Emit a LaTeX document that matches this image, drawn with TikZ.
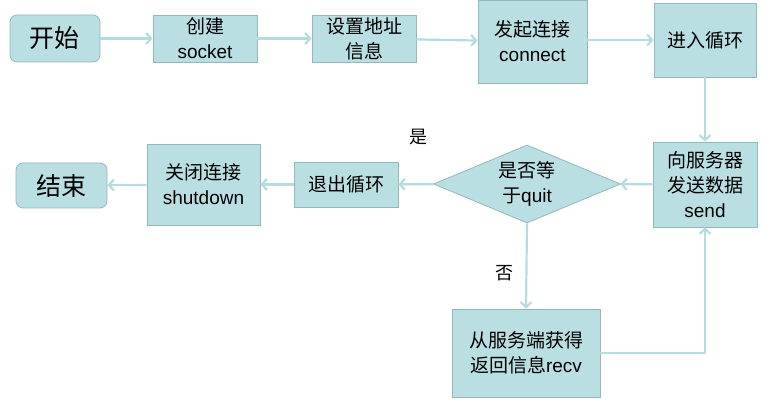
\documentclass[tikz,border=0pt]{standalone}
\usepackage{fontspec}
\setmainfont{Liberation Sans}
\newfontfamily\cjk{Noto Sans CJK SC}
\usetikzlibrary{shapes.geometric,arrows.meta}
\definecolor{boxfill}{HTML}{BADFE3}
\definecolor{boxdraw}{HTML}{93B8BC}
\definecolor{flow}{HTML}{B5DDE0}
\tikzset{
  box/.style={draw=boxdraw,fill=boxfill,line width=0.8pt,align=center,inner sep=2pt,
    font=\fontsize{19}{25}\selectfont},
  term/.style={box,rounded corners=7pt,font=\cjk\fontsize{25}{28}\selectfont},
  decide/.style={box,diamond,aspect=2.4,inner sep=0pt,minimum width=187pt,minimum height=78pt},
  flowline/.style={draw=flow,line width=2.2pt,-{Straight Barb[length=5pt,width=11pt]}},
  tag/.style={font=\cjk\fontsize{18}{20}\selectfont}
}
\begin{document}
\begin{tikzpicture}[x=1pt,y=-1pt]
    \useasboundingbox (0,0) rectangle (772,417);
    % top row
    \node[term,minimum width=90pt,minimum height=47pt] (start) at (55,38.5) {开始};
    \node[box,minimum width=104pt,minimum height=47pt] (create) at (205,38.5) {{\cjk 创建}\\socket};
    \node[box,minimum width=104pt,minimum height=47pt] (addr) at (364,38.5) {\cjk 设置地址\\\cjk 信息};
    \node[box,minimum width=109pt,minimum height=83pt] (conn) at (532.5,41.5) {{\cjk 发起连接}\\connect};
    \node[box,minimum width=102pt,minimum height=74pt] (loop) at (705,40) {\cjk 进入循环};
    % middle row
    \node[box,minimum width=104pt,minimum height=85pt] (send) at (705,184.5) {\cjk 向服务器\\\cjk 发送数据\\send};
    \node[decide] (quit) at (527,184) {{\cjk 是否等}\\{\cjk 于}quit};
    \node[box,minimum width=104pt,minimum height=45pt] (exit) at (346,184.5) {\cjk 退出循环};
    \node[box,minimum width=113pt,minimum height=81pt] (close) at (203.5,184.5) {{\cjk 关闭连接}\\shutdown};
    \node[term,minimum width=91pt,minimum height=45pt] (end) at (61.5,185.5) {结束};
    % bottom
    \node[box,minimum width=148pt,minimum height=88pt] (recv) at (526,353) {{\cjk 从服务端获得}\\{\cjk 返回信息}recv};
    \node[tag] (yes) at (418,137) {是};
    \node[tag] (no) at (504,273) {否};

    \draw[flowline] (start) -- (create);
    \draw[flowline] (create) -- (addr);
    \draw[flowline] (addr) -- (conn);
    \draw[flowline] (conn.east |- loop) -- (loop);
    \draw[flowline] (loop) -- (send);
    \draw[flowline] (send) -- (quit);
    \draw[flowline] (quit) -- (exit);
    \draw[flowline] (exit) -- (close);
    \draw[flowline] (close) -- (end);
    \draw[flowline] (quit.south) -- (recv.north);
    \draw[flowline] (recv.east) -| (send.south);
\end{tikzpicture}
\end{document}
